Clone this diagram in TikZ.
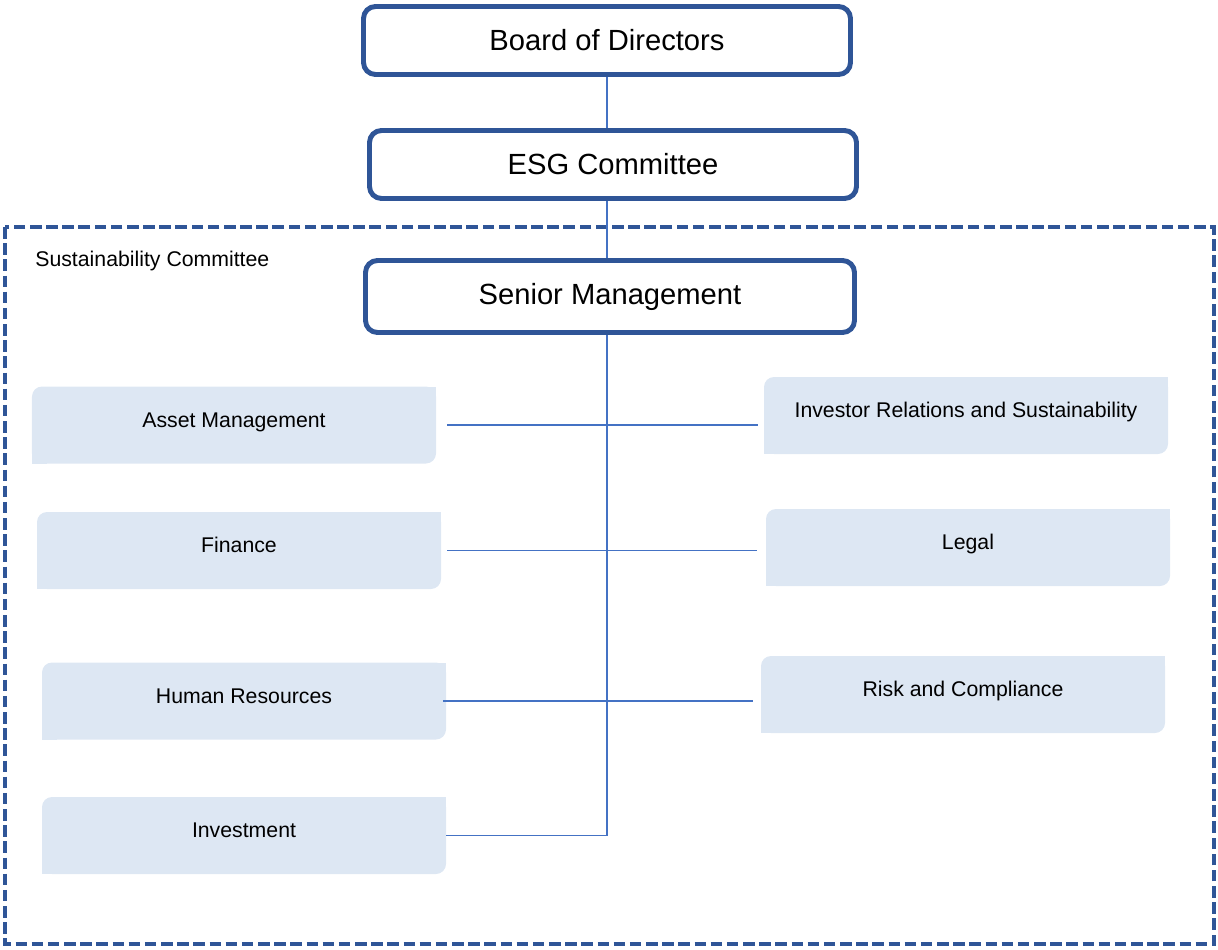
\documentclass[tikz,border=0pt]{standalone}
\usepackage{fontspec}
\setmainfont{Liberation Sans}
\usetikzlibrary{backgrounds}

\definecolor{frameblue}{RGB}{47,85,151}
\definecolor{linkblue}{RGB}{68,114,196}
\definecolor{unitfill}{RGB}{221,231,243}

\tikzset{
  board/.style={draw=frameblue, line width=2.8pt, rounded corners=0.24cm, fill=white,
    minimum width=9.74cm, minimum height=1.36cm, font=\fontsize{16.6}{20}\selectfont},
  unit/.style={fill=unitfill, rounded corners=0.2cm, inner sep=0pt, outer sep=0pt,
    minimum width=8.08cm, minimum height=1.54cm,
    text height=8.8pt, text depth=6.4pt, font=\fontsize{12.1}{14}\selectfont},
  link/.style={draw=linkblue, line width=0.8pt},
}

\begin{document}
\begin{tikzpicture}
    \useasboundingbox (0,0) rectangle (24.36,-19);

    % governance chain
    \draw (12.14,-0.81) node[board] (board) {Board of Directors};
    \draw (12.26,-3.29) node[board] (esg) {ESG Committee};
    \draw (12.20,-5.93) node[board, minimum width=9.78cm, minimum height=1.44cm] (senior) {Senior Management};

    % committee frame
    \draw[frameblue, line width=2.2pt, dash pattern=on 6.6pt off 2.6pt] (0.10,-4.54) rectangle (24.28,-18.88);
    \draw (0.70,-5.34) node[anchor=base west, inner sep=0pt, font=\fontsize{12.1}{14}\selectfont] (sustain) {Sustainability Committee};

    % departments
    \draw (4.68,-8.50) node[unit] (asset) {Asset Management};
    \draw (4.78,-11.01) node[unit] (finance) {Finance};
    \draw (4.88,-14.02) node[unit] (hr) {Human Resources};
    \draw (4.88,-16.71) node[unit] (invest) {Investment};
    \draw (19.32,-8.31) node[unit] (irs) {Investor Relations and Sustainability};
    \draw (19.36,-10.95) node[unit] (legal) {Legal};
    \draw (19.26,-13.89) node[unit] (risk) {Risk and Compliance};

    % square off the top right and bottom left corners
    \begin{scope}[on background layer]
      \foreach \n in {asset,finance,hr,invest,irs,legal,risk} {
        \fill[unitfill] (\n.north east) rectangle ++(-0.3,-0.3);
        \fill[unitfill] (\n.south west) rectangle ++(0.3,0.3);
      }
    \end{scope}

    \path[link] (board) edge (board |- esg.north)
                (board |- esg.south) edge (board |- senior.north);

    \coordinate (top) at ([xshift=-0.06cm]senior.south);
    \coordinate (corner) at (top |- invest.east);
    \draw[link] (top) -- (corner) -- (invest.east);

    \draw[link, shorten <=0.22cm, shorten >=0.12cm] (asset.east) -- (asset.east -| irs.west);
    \draw[link, shorten <=0.12cm, shorten >=0.18cm] (finance.east) -- (finance.east -| legal.west);
    \draw[link, shorten <=-0.06cm, shorten >=0.16cm] (hr.east) -- (hr.east -| risk.west);

\end{tikzpicture}
\end{document}
